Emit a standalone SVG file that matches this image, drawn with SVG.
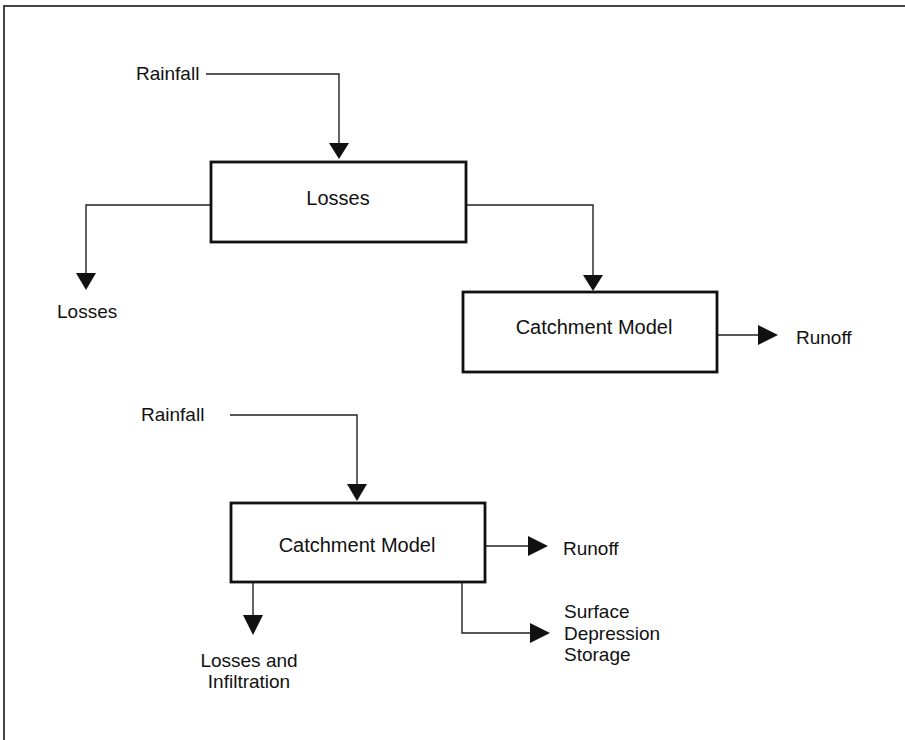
<svg xmlns="http://www.w3.org/2000/svg" width="905" height="740" viewBox="0 0 905 740">
<style>
.frame{fill:none;stroke:#444;stroke-width:2}
.box{fill:#fff;stroke:#111;stroke-width:2.8}
.line{fill:none;stroke:#222;stroke-width:1.4}
.head{fill:#111}
text{font-family:"Liberation Sans",Arial,sans-serif;font-size:19px;fill:#111}
.c{text-anchor:middle}
.b{font-size:20px}
</style>
<rect width="905" height="740" fill="#fff"/>
<path class="frame" d="M4,740 V6 H905"/>
<g id="connectors">
<path class="line" d="M206,74 H339 V145"/>
<polygon class="head" points="329,143 349,143 339,159"/>
<path class="line" d="M211,205 H86 V275"/>
<polygon class="head" points="76,273 96,273 86,290"/>
<path class="line" d="M466,205 H593 V277"/>
<polygon class="head" points="583,275 603,275 593,291"/>
<path class="line" d="M717,335 H760"/>
<polygon class="head" points="758,325 758,345 778,335"/>
<path class="line" d="M230,415 H357 V486"/>
<polygon class="head" points="347,484 367,484 357,501"/>
<path class="line" d="M485,546 H530"/>
<polygon class="head" points="528,536 528,556 548,546"/>
<path class="line" d="M253,582 V617"/>
<polygon class="head" points="243,615 263,615 253,635"/>
<path class="line" d="M462,582 V633 H532"/>
<polygon class="head" points="530,623 530,643 550,633"/>
</g>
<g id="rainfall1"><text x="136" y="80">Rainfall</text></g>
<g id="losses-box"><rect class="box" x="211" y="162" width="255" height="80"/><text class="c b" x="338" y="205">Losses</text></g>
<g id="losses-out"><text x="57" y="318">Losses</text></g>
<g id="catchment1"><rect class="box" x="463" y="292" width="254" height="80"/><text class="c b" x="594" y="334">Catchment Model</text></g>
<g id="runoff1"><text x="796" y="344">Runoff</text></g>
<g id="rainfall2"><text x="141" y="421">Rainfall</text></g>
<g id="catchment2"><rect class="box" x="231" y="503" width="254" height="79"/><text class="c b" x="357" y="552">Catchment Model</text></g>
<g id="runoff2"><text x="563" y="555">Runoff</text></g>
<g id="losses-infiltration"><text class="c" x="249" y="667">Losses and</text><text class="c" x="249" y="688">Infiltration</text></g>
<g id="surface-storage"><text x="564" y="618">Surface</text><text x="564" y="640">Depression</text><text x="564" y="661">Storage</text></g>
</svg>
